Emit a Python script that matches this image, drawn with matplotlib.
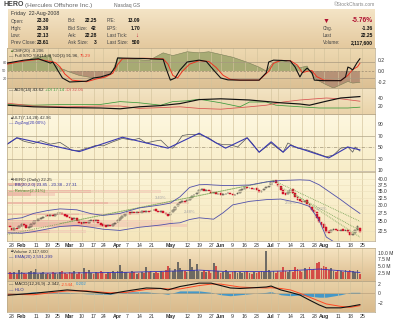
import numpy as np
import pandas as pd
import matplotlib
matplotlib.use('Agg')
import matplotlib.pyplot as plt
from matplotlib.colors import LinearSegmentedColormap

plt.rcParams['font.family'] = ['Liberation Sans', 'DejaVu Sans']

W, H = 400, 322
X0, X1 = 7, 375          # plot area, pixels
XMIN, XMAX = -2.1, 151.3  # trading-day index, Jan 28 = 0

# trading days (holidays removed), Jan 25 -> Aug 25 2008
holidays = ['2008-02-18', '2008-03-21', '2008-05-26', '2008-07-04']
days = pd.bdate_range('2008-01-25', '2008-08-25')
days = days[~days.isin(pd.to_datetime(holidays))]
pos = {d.strftime('%Y-%m-%d'): i - 1 for i, d in enumerate(days)}

tick_dates = ['2008-01-28', '2008-02-01', '2008-02-11', '2008-02-19', '2008-02-25', '2008-03-03',
              '2008-03-10', '2008-03-17', '2008-03-24', '2008-04-01', '2008-04-07', '2008-04-14',
              '2008-04-21', '2008-05-01', '2008-05-12', '2008-05-19', '2008-05-27', '2008-06-02',
              '2008-06-09', '2008-06-16', '2008-06-23', '2008-07-01', '2008-07-07', '2008-07-14',
              '2008-07-21', '2008-07-28', '2008-08-01', '2008-08-11', '2008-08-18', '2008-08-25']
tick_labels = ['28', 'Feb', '11', '19', '25', 'Mar', '10', '17', '24', 'Apr', '7', '14', '21', 'May',
               '12', '19', '27', 'Jun', '9', '16', '23', 'Jul', '7', '14', '21', '28', 'Aug', '11', '18', '25']
months = ['Feb', 'Mar', 'Apr', 'May', 'Jun', 'Jul', 'Aug']

# daily prices, Jan 25 .. Aug 22
opens = [23.8,
         23.2, 22.7, 23.3, 23.2, 23.7,  24.4, 23.9, 23.1, 23.5, 24.4,  25.2, 25.2, 25.7, 26.0, 26.4,
         26.9, 26.5, 26.9, 26.6,  27.1, 27.5, 27.3, 27.1, 26.7,  26.3, 25.9, 25.6, 25.8, 25.1,
         24.7, 24.5, 24.8, 24.6, 25.0,  25.3, 25.0, 25.4, 24.5,  24.2, 23.9, 23.7, 24.1, 23.8,
         24.3, 24.7, 25.5, 26.0, 26.6,  27.3, 27.6, 27.3, 27.7, 27.4,  27.8, 27.5, 28.0, 27.7, 28.1,
         27.9, 28.2, 28.6, 28.1, 27.7,  27.9, 27.4, 27.1, 26.7, 27.6,  28.5, 29.5, 30.5, 31.0, 31.4,
         31.2, 31.7, 32.4, 33.3, 33.7,  34.6, 35.3, 35.7, 35.1, 35.5,  34.9, 34.3, 34.7, 33.9,
         34.1, 33.6, 33.8, 34.1, 34.4,  34.0, 33.5, 33.7, 34.4, 35.3,  35.9, 36.5, 36.1, 36.2, 35.7,
         36.0, 35.3, 34.7, 35.2, 36.0,  36.6, 37.2, 38.7, 39.4,  38.0, 36.8, 35.4, 34.2, 33.7,
         34.7, 35.6, 34.3, 32.7, 31.9,  31.4, 31.1, 31.5, 30.3, 29.4,  28.3, 27.7, 26.1, 24.9, 24.2,
         23.4, 22.4, 22.1, 22.7, 23.0,  22.7, 22.4, 22.9, 22.4, 22.8,  22.2, 21.5, 21.9, 22.7, 23.30]
closes = [23.4,
          22.6, 23.1, 23.0, 23.8, 24.2,  24.0, 23.2, 23.4, 24.3, 25.0,  25.1, 25.6, 25.9, 26.3, 26.6,
          26.4, 26.9, 26.5, 27.0,  27.3, 27.4, 27.0, 26.6, 26.2,  25.8, 25.5, 25.9, 25.0, 24.6,
          24.4, 24.9, 24.5, 25.1, 25.4,  24.9, 25.5, 24.6, 24.1,  23.8, 23.6, 24.0, 23.7, 24.2,
          24.6, 25.4, 25.9, 26.5, 27.2,  27.5, 27.2, 27.6, 27.3, 27.7,  27.4, 27.9, 27.6, 28.0, 27.8,
          28.1, 28.5, 28.0, 27.6, 27.9,  27.3, 27.0, 26.6, 27.5, 28.3,  29.4, 30.4, 30.9, 31.3, 31.0,
          31.6, 32.3, 33.2, 33.6, 34.4,  35.2, 35.6, 35.0, 35.4, 34.8,  34.2, 34.6, 33.8, 34.0,
          33.5, 33.7, 34.0, 34.3, 33.9,  33.4, 33.6, 34.3, 35.2, 35.8,  36.4, 36.0, 36.3, 35.6, 35.9,
          35.2, 34.6, 35.1, 35.9, 36.5,  37.0, 38.6, 39.3, 38.2,  36.9, 35.3, 34.0, 33.6, 34.6,
          35.5, 34.2, 32.6, 31.8, 31.3,  31.0, 31.4, 30.2, 29.3, 28.2,  27.6, 26.0, 24.8, 24.1, 23.3,
          22.3, 22.0, 22.8, 22.9, 22.6,  22.4, 22.8, 22.5, 22.7, 22.1,  21.6, 21.8, 22.6, 23.61, 22.25]
volume = [2.6,
          2.3, 2.8, 2.1, 3.5, 2.9,  2.4, 2.0, 2.7, 3.1, 2.6,  3.8, 2.2, 2.5, 2.9, 2.1,
          2.3, 1.9, 2.6, 2.4,  2.2, 2.7, 3.0, 2.5, 2.1,  2.9, 2.4, 3.3, 2.0, 2.6,
          2.2, 4.2, 2.8, 3.6, 2.3,  2.0, 2.7, 2.4, 3.0,  2.6, 2.2, 2.9, 2.5, 3.1,
          2.4, 3.0, 5.4, 3.2, 2.8,  2.6, 2.3, 3.1, 2.7, 2.2,  2.5, 2.9, 2.4, 4.5, 2.6,
          3.0, 2.3, 2.8, 2.4, 3.3,  2.7, 3.5, 5.0, 4.1, 3.2,  3.9, 6.4, 4.4, 3.7, 3.1,
          2.9, 7.6, 4.8, 3.5, 5.8,  3.3, 2.8, 3.6, 2.9, 3.0,  2.5, 6.2, 5.2, 3.1,
          2.4, 2.8, 3.4, 2.6, 2.2,  2.6, 3.0, 2.4, 2.9, 2.3,  2.7, 3.2, 2.5, 2.1, 2.8,
          2.4, 2.9, 3.3, 2.6, 10.6,  3.4, 2.8, 3.1, 2.5,  3.2, 2.7, 4.8, 3.0, 2.6,
          3.4, 2.9, 4.7, 3.8, 3.1,  2.8, 4.2, 3.4, 4.8, 3.6,  4.0, 6.0, 6.7, 4.4, 5.2,
          4.5, 3.7, 4.1, 3.2, 2.9,  3.6, 3.0, 2.7, 3.4, 2.8,  3.5, 3.1, 2.6, 3.4, 2.12]

# indicators, sampled at day indexes
cmf_x = [-2, 3, 9, 16, 17, 20, 22, 24, 28, 33, 37, 40, 42, 44, 49, 57, 63, 67, 73, 78, 82, 92, 98,
         103, 106, 109, 113, 117, 120, 123, 124, 127, 131, 134, 137, 140, 142, 145]
cmf_v = [0.16, 0.15, 0.24, 0.29, 0.15, 0.05, 0.02, -0.02, -0.08, -0.12, -0.13, -0.08, 0.0, 0.24, 0.22,
         0.19, 0.33, 0.28, 0.35, 0.33, 0.35, 0.25, 0.16, 0.07, 0.0, 0.16, 0.19, 0.13, 0.06, 0.09, 0.0,
         -0.16, -0.25, -0.31, -0.25, -0.19, -0.22, -0.206]
stok_x = [-2, 5, 11, 16, 17, 19, 21, 24, 31, 34, 37, 41, 43, 44, 55, 63, 64, 66, 68, 70, 73, 78, 81,
          84, 87, 90, 95, 103, 106, 107, 109, 112, 116, 118, 120, 121, 123, 125, 126, 130, 137, 139,
          140, 141, 142, 144, 145]
stok_v = [76, 87, 92, 76, 80, 50, 20, 5, 8, 20, 24, 35, 61, 95, 93, 90, 61, 12, 20, 50, 80, 87, 82,
          50, 20, 13, 12, 12, 40, 80, 87, 86, 84, 61, 24, 40, 57, 40, 12, 10, 10, 24, 61, 57, 50, 80, 92]
stod_x = [-2, 5, 11, 16, 18, 20, 22, 25, 31, 35, 39, 42, 44, 46, 55, 63, 65, 67, 69, 71, 74, 78, 82,
          85, 88, 91, 95, 103, 107, 109, 112, 116, 119, 121, 123, 125, 127, 130, 137, 140, 142, 144, 145]
stod_v = [72, 84, 90, 82, 78, 62, 35, 12, 6, 16, 24, 38, 70, 92, 94, 92, 72, 30, 20, 45, 72, 85, 82,
          60, 30, 15, 12, 12, 45, 75, 86, 85, 68, 40, 45, 48, 25, 12, 10, 30, 52, 62, 75.3]

adx_x = [-2, 9, 23, 37, 45, 53, 62, 70, 78, 87, 99, 112, 120, 124, 131, 137, 145]
adx_v = [22, 18, 16, 15, 13, 18, 21, 26, 36, 38, 35, 28, 25, 22, 32, 40, 43.6]
pdi_x = [-2, 9, 23, 37, 45, 53, 62, 67, 73, 78, 87, 95, 99, 106, 110, 120, 128, 140, 145]
pdi_v = [24, 22, 24, 24, 31, 28, 22, 31, 33, 37, 28, 18, 30, 30, 22, 18, 15, 15, 17.1]
mdi_x = [-2, 9, 23, 37, 45, 53, 62, 70, 78, 87, 99, 106, 113, 120, 131, 137, 145]
mdi_v = [27, 20, 18, 20, 20, 14, 16, 18, 14, 12, 18, 22, 30, 35, 40, 38, 32]

ult_x = [-2, 2, 5, 7, 9, 12, 16, 20, 23, 25, 28, 33, 35, 38, 42, 46, 50, 53, 56, 59, 62, 65, 67, 69,
         71, 74, 78, 82, 85, 88, 91, 94, 98, 100, 103, 108, 110, 113, 115, 119, 123, 127, 131, 134,
         137, 140, 142, 143, 145]
ult_v = [55, 66, 60, 58, 56, 61, 55, 58, 50, 44, 44, 50, 53, 52, 59, 65, 62, 65, 57, 60, 62, 50, 48,
         58, 70, 72, 72, 66, 57, 54, 54, 50, 66, 57, 41, 57, 50, 41, 57, 48, 45, 39, 33, 36, 48, 50,
         41, 50, 43]
zz_x = [-2, 2, 28, 46, 65, 78, 89, 98, 103, 108, 113, 116, 132, 140, 145]
zz_v = [55, 66, 42, 67, 48, 74, 48, 66, 41, 59, 41, 53, 31, 50, 45]

bb_x = [-2, 4, 9, 15, 20, 27, 33, 38, 45, 53, 62, 66, 70, 74, 78, 81, 84, 88, 92, 99, 106, 112, 120,
        124, 128, 131, 137, 141, 145]
bb_up = [25.5, 26.0, 27.3, 28.2, 28.7, 28.4, 27.2, 26.7, 27.3, 29.0, 30.0, 30.6, 32.8, 36.4, 37.5,
         37.6, 37.4, 37.2, 37.2, 37.4, 38.7, 39.3, 39.6, 39.4, 37.5, 35.5, 31.8, 29.4, 27.3]
bb_lo = [22.0, 21.9, 22.3, 23.0, 23.6, 23.9, 23.4, 22.9, 22.6, 23.4, 24.0, 24.4, 24.6, 25.5, 26.0,
         25.8, 25.6, 27.5, 30.0, 31.2, 31.8, 32.0, 30.6, 29.5, 25.3, 21.0, 19.0, 18.6, 18.5]

# dotted trend lines on price panel (start/end)
trend_x = [[-2, 109], [20, 109], [109, 145], [112, 145], [118, 145]]
trend_y = [[21.6, 39.3], [24.4, 39.3], [39.3, 25.0], [36.5, 22.6], [33.6, 21.0]]
trend_tags = ['3.40%', '2.48%', '2.56%', '1.82%']
tag_x = [62, 74, 116, 129]
tag_y = [32.4, 27.6, 30.6, 28.6]

# volume by price
vbp_lo = [22.0, 23.5, 24.4, 26.8, 30.2, 33.0, 34.3, 36.9]
vbp_hi = [22.8, 24.4, 25.3, 27.5, 31.0, 34.3, 35.5, 38.3]
vbp_len = [33, 75, 69, 55, 76, 20, 64, 14]
vbp_up = [18, 40, 35, 30, 42, 10, 35, 7]

ema_x = [-2, 20, 45, 70, 78, 90, 106, 115, 128, 135, 145]
ema_v = [2.3, 2.4, 2.6, 3.2, 3.5, 2.9, 3.0, 3.2, 3.9, 3.4, 2.6]

macd_x = [-2, 9, 23, 31, 41, 48, 56, 62, 65, 70, 78, 83, 87, 91, 95, 99, 106, 108, 112, 116, 120,
          124, 128, 131, 137, 141, 145]
macd_v = [-0.4, 0.0, 0.7, 0.4, -0.1, 0.5, 1.1, 1.0, 0.7, 1.4, 2.1, 2.1, 1.6, 1.1, 1.0, 1.1, 1.3, 1.5,
          0.7, 0.2, -0.35, -1.4, -2.4, -3.0, -3.0, -2.7, -2.342]
sig_v = [-0.2, -0.3, 0.5, 0.5, 0.1, 0.2, 0.8, 1.0, 0.9, 0.9, 1.6, 1.9, 1.9, 1.6, 1.3, 1.2, 1.1, 1.15,
         1.0, 0.7, 0.0, -0.8, -1.6, -2.2, -2.7, -2.9, -2.544]

info_rows = [[('Open:', '23.30'), ('Bid:', '22.25'), ('P/E:', '13.09')],
             [('High:', '23.39'), ('Bid Size:', '42'), ('EPS:', '1.70')],
             [('Low:', '22.13'), ('Ask:', '22.28'), ('Last Tick:', '')],
             [('Prev Close:', '23.61'), ('Ask Size:', '3'), ('Last Size:', '500')]]
info_right = [('', '-5.76%'), ('Chg.', '-1.36'), ('Last', '22.25'), ('Volume:', '2,117,600')]

fig = plt.figure(figsize=(4, 3.22), dpi=100)
fig.patch.set_facecolor('white')
renderer = fig.canvas.get_renderer()
grad = np.linspace(0, 1, 64).reshape(-1, 1)
GRID = '#d3c39c'
LEG = 3.2
tick_pos = [pos[d] for d in tick_dates]


def T(x, y, s, size=LEG, color='#333333', ha='left', weight='normal'):
    return fig.text(x / W, 1 - y / H, s, fontsize=size, color=color, ha=ha, va='center',
                    fontweight=weight)


def chain(x, y, parts, size=LEG, gap=1.2):
    # several coloured pieces of one legend line, placed one after another
    for s, colr in parts:
        t = T(x, y, s, size=size, color=colr)
        x = t.get_window_extent(renderer).x1 + gap


def background(rect, top, bottom):
    bg = fig.add_axes(rect, zorder=0)
    bg.imshow(grad, cmap=LinearSegmentedColormap.from_list('', [top, bottom]),
              aspect='auto', extent=[0, 1, 0, 1])
    bg.set_axis_off()


def right_ticks(ax):
    ax.yaxis.tick_right()
    ax.tick_params(length=0, labelsize=3.6, pad=2, colors='#333333')
    ax.tick_params(axis='x', labelsize=3.8)


def panel(y0, y1, top, bottom, labels=False):
    rect = [X0 / W, 1 - y1 / H, (X1 - X0) / W, (y1 - y0) / H]
    background(rect, top, bottom)
    ax = fig.add_axes(rect, zorder=1)
    ax.set_facecolor('none')
    ax.set_xlim(XMIN, XMAX)
    ax.set_xticks(tick_pos)
    if labels:
        ax.set_xticklabels(tick_labels)
        for t in ax.get_xticklabels():
            if t.get_text() in months:
                t.set_fontweight('bold')
    else:
        ax.set_xticklabels([])
    ax.grid(axis='x', color=GRID, lw=0.45)
    right_ticks(ax)
    for s in ax.spines.values():
        s.set_color('#b8a888')
        s.set_linewidth(0.5)
    return ax


# header and info box
T(3, 5, 'HERO', size=5.0, weight='bold', color='#444444')
T(25, 5, '(Hercules Offshore Inc.)', size=4.6, color='#666666')
T(114, 5, 'Nasdaq GS', size=3.6, color='#666666')
T(375, 5, '\u00a9StockCharts.com', size=3.5, color='#888888', ha='right')
background([8 / W, 1 - 48 / H, (X1 - 8) / W, 39 / H], '#f4e4c6', '#e4c99e')
T(11, 14, 'Friday  22-Aug-2008', size=3.8)
row_y = [21, 28.3, 35.6, 42.9]
for y, row in zip(row_y, info_rows):
    for (lab, val), lx, vx in zip(row, [11, 68, 107], [49, 97, 140]):
        T(lx, y, lab, size=3.4, color='#444444')
        T(vx, y, val, size=3.6, color='#111111', ha='right', weight='bold')
T(138, row_y[2], '\u2193', size=4.2, color='#c01030', ha='right', weight='bold')
T(326, row_y[0], '\u25bc', size=5.0, color='#b01030', ha='center')
for y, (lab, val) in zip(row_y, info_right):
    T(323, y, lab, size=3.4, color='#444444')
    T(373, y, val, size=4.8 if lab == '' else 3.6, color='#b01030' if lab == '' else '#111111',
      ha='right', weight='bold')

# panel 1: CMF + Full STO
ax1 = panel(48, 88, '#eedab2', '#dcc094')
cx, cv = np.array(cmf_x), np.array(cmf_v)
ax1.fill_between(cx, cv, 0, where=cv >= 0, interpolate=True, color='#98a268', alpha=0.8, lw=0)
ax1.fill_between(cx, cv, 0, where=cv <= 0, interpolate=True, color='#a8806a', alpha=0.75, lw=0)
ax1.plot(cx, cv, color='#7b7e58', lw=0.4)
ax1.axhline(0, color='#9a8a70', lw=0.5, ls=(0, (3, 2)))
ax1.set_ylim(-0.309, 0.418)
tw = ax1.twinx()
right_ticks(ax1)  # twinx moves the parent ticks to the left
ax1.set_yticks([0.2, 0.0, -0.2])
ax1.set_yticklabels(['0.2', '0.0', '-0.2'])
tw.set_zorder(2)
tw.set_xlim(XMIN, XMAX)
tw.set_ylim(-17.5, 132.5)
for lv in (80, 20):
    tw.axhline(lv, color='#a89880', lw=0.5)
tw.plot(stod_x, stod_v, color='#ee3322', lw=0.7)
tw.plot(stok_x, stok_v, color='#111111', lw=0.8)
tw.yaxis.tick_left()
tw.set_yticks([80, 50, 20])
tw.tick_params(length=0, labelsize=2.8, pad=0.3, colors='#555555')
for s in tw.spines.values():
    s.set_visible(False)
T(9, 50.8, '\u25b2', size=3.0, color='#5a7a30')
T(13, 50.8, 'CMF(20) -0.206', size=LEG)
chain(9, 56, [('\u2014 Full STO %K(14,3) %D(3) 91.96,', '#222222'), ('75.29', '#ee3322')])

# panel 2: ADX
ax2 = panel(88, 114, '#f3e4c4', '#ead3a9')
ax2.plot(pdi_x, pdi_v, color='#3c9a3c', lw=0.55)
ax2.plot(mdi_x, mdi_v, color='#d85050', lw=0.55)
ax2.plot(adx_x, adx_v, color='#111111', lw=0.85)
ax2.set_ylim(0, 65)
ax2.set_yticks([40, 20])
chain(9, 89.8, [('\u2014 ADX(14) 43.62', '#222222'), ('+DI 17.14', '#3c9a3c'),
                ('-DI 32.06', '#d85050')])

# panel 3: ULT + ZigZag
ax3 = panel(114, 171, '#fdf7df', '#f8edc8')
for lv in (70, 30):
    ax3.axhline(lv, color='#b0a488', lw=0.5)
ax3.axhline(50, color='#a09478', lw=0.5, ls=(0, (5, 2, 1, 2)))
ax3.plot(ult_x, ult_v, color='#555555', lw=0.5)
ax3.plot(zz_x, zz_v, color='#3838b0', lw=0.8)
ax3.set_ylim(8.3, 107.4)
ax3.set_yticks([90, 70, 50, 30, 10])
T(9, 117.6, '\u25b2', size=3.0, color='#444444')
T(13, 117.6, 'ULT(7,14,28) 42.96', size=LEG)
T(9, 123, '\u2014 ZigZag(20.00%)', size=LEG, color='#3838b0')

# panel 4: price
ax4 = panel(172, 241, '#fcf5d8', '#f5e6bb', labels=True)
ax4.set_yscale('log')
for lo, hi, ln, up in zip(vbp_lo, vbp_hi, vbp_len, vbp_up):
    ax4.barh(lo, ln, height=hi - lo, left=XMIN, align='edge', color='#f3c9b6', alpha=0.7, lw=0)
    ax4.barh(lo, up, height=hi - lo, left=XMIN, align='edge', color='#e9aa9a', alpha=0.55, lw=0)
for tx, ty in zip(trend_x, trend_y):
    ax4.plot(tx, ty, color='#6fa050', lw=0.6, ls=(0, (1, 1.2)))
for s, tx, ty in zip(trend_tags, tag_x, tag_y):
    ax4.text(tx, ty, s, fontsize=3.0, color='#a8a8a8', ha='center', va='center')
ax4.plot(bb_x, bb_up, color='#5050aa', lw=0.6)
ax4.plot(bb_x, bb_lo, color='#5050aa', lw=0.6)
xs = np.arange(len(closes)) - 1
o, c = np.array(opens), np.array(closes)
prev = np.r_[o[0], c[:-1]]
col = ['#d01028' if cc < pp else '#222222' for cc, pp in zip(c, prev)]
face = [cl if cc < oo else 'none' for cl, cc, oo in zip(col, c, o)]
lo_b, hi_b = np.minimum(o, c), np.maximum(o, c)
ax4.bar(xs, hi_b - lo_b, bottom=lo_b, width=0.8, color=face, edgecolor=col, lw=0.35)
ax4.set_ylim(20.1, 43.2)
pticks = [22.5, 25.0, 27.5, 30.0, 32.5, 35.0, 37.5, 40.0]
ax4.set_yticks(pticks)
ax4.set_yticklabels(['%.1f' % p for p in pticks])
ax4.minorticks_off()
ax4.tick_params(axis='x', pad=1.2)
ax4.grid(axis='y', color='#ece0bc', lw=0.4)
T(9, 179.5, '\u25b2', size=3.0, color='#444444')
T(13, 179.5, 'HERO (Daily) 22.25', size=LEG)
T(9, 185, '\u2014 BB(20,2.0) 23.85 - 20.38 - 27.31', size=LEG, color='#3838a0')
T(9, 190.6, '\u2014 Retrace(2.31%)', size=LEG, color='#4f8a30')

# panel 5: volume
ax5 = panel(248, 281, '#f5e3c0', '#dcbc8e')
vcol = ['#d23838' if cl != '#222222' else '#5a5a5a' for cl in col]
ax5.bar(xs, volume, width=0.8, color=vcol, alpha=0.85, lw=0)
ax5.plot(ema_x, ema_v, color='#3434c0', lw=0.6)
ax5.set_ylim(-0.6, 11.8)
ax5.set_yticks([10, 7.5, 5, 2.5])
ax5.set_yticklabels(['10.0 M', '7.5 M', '5.0 M', '2.5 M'])
T(9, 251.5, '\u25b2', size=3.0, color='#444444')
T(13, 251.5, 'Volume 2,117,600', size=LEG)
T(9, 257, '\u2014 EMA(20) 2,591,299', size=LEG, color='#3434a0')

# panel 6: MACD
ax6 = panel(281, 312, '#e9d2a8', '#d9ba8c', labels=True)
mx, mv, sv = np.array(macd_x), np.array(macd_v), np.array(sig_v)
ax6.axhline(0, color='#b09a78', lw=0.4)
ax6.fill_between(mx, mv - sv, 0, color='#2a90d0', alpha=0.85, lw=0)
ax6.plot(mx, sv, color='#ff4a24', lw=0.7)
ax6.plot(mx, mv, color='#111111', lw=0.8)
ax6.set_ylim(-3.86, 2.54)
ax6.set_yticks([2, 0, -2])
ax6.tick_params(axis='x', pad=1.2)
chain(9, 284.3, [('\u2014 MACD(12,26,9) -2.342,', '#222222'), ('-2.544,', '#ff4a24'),
                 ('0.202', '#2a90d0')])
T(9, 289.6, '\u2014 HLO', size=LEG, color='#3434a0')

fig.savefig('out.png', dpi=100)
